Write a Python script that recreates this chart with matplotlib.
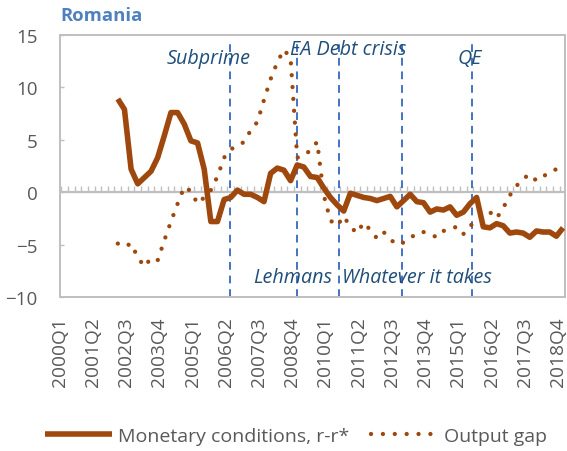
import numpy as np
import matplotlib.pyplot as plt
import matplotlib.transforms as mtransforms
from matplotlib.lines import Line2D

plt.rcParams["font.family"] = ["Open Sans", "DejaVu Sans"]

# Quarterly category axis 2000Q1 .. 2018Q4
quarters = [f"{y}Q{q}" for y in range(2000, 2019) for q in range(1, 5)]
tick_labels = ["2000Q1", "2001Q2", "2002Q3", "2003Q4", "2005Q1", "2006Q2",
               "2007Q3", "2008Q4", "2010Q1", "2011Q2", "2012Q3", "2013Q4",
               "2015Q1", "2016Q2", "2017Q3", "2018Q4"]

series_start = "2002Q1"

# Monetary conditions, r - r*
monetary = [8.9, 7.9, 2.2, 0.8, 1.4, 2.0, 3.3, 5.4, 7.6, 7.6,
            6.5, 4.9, 4.7, 2.2, -2.8, -2.8, -0.7, -0.5, 0.2, -0.2,
            -0.2, -0.5, -0.9, 1.8, 2.3, 2.1, 1.1, 2.6, 2.4, 1.5,
            1.4, 0.4, -0.5, -1.2, -1.8, -0.1, -0.3, -0.5, -0.6, -0.8,
            -0.6, -0.4, -1.4, -0.8, -0.2, -0.9, -1.0, -1.9, -1.6, -1.7,
            -1.4, -2.2, -1.9, -1.1, -0.5, -3.3, -3.4, -3.0, -3.2, -3.9,
            -3.8, -3.9, -4.3, -3.7, -3.8, -3.8, -4.2, -3.4]

# Output gap
output_gap = [-4.9, -5.2, -4.9, -6.2, -7.1, -6.3, -6.5, -4.6, -2.8, -1.1,
              0.5, 0.1, -1.1, -0.5, 0.2, 1.5, 3.3, 4.1, 4.4, 4.8,
              5.9, 6.7, 8.8, 10.8, 12.4, 13.6, 12.8, 3.3, 3.5, 4.0,
              4.8, -0.3, -2.7, -3.2, -2.3, -3.3, -3.9, -2.9, -3.6, -4.4,
              -3.8, -4.5, -5.0, -4.8, -4.4, -3.9, -3.8, -4.0, -4.3, -3.7,
              -3.5, -3.3, -4.0, -3.2, -2.8, -2.4, -1.9, -2.5, -1.5, -0.3,
              0.6, 1.3, 1.7, 1.1, 1.5, 1.9, 2.2, 2.4]

# Event markers (position on the quarter axis) and their captions
event_pos = [24.9, 34.9, 41.3, 50.7, 61.3]
event_names = ["Subprime", "Lehmans", "EA Debt crisis", "Whatever it takes", "QE"]
caption_x = [21.6, 34.3, 42.6, 53.0, 61.0]
caption_y = [12.8, -8.1, 13.7, -8.1, 12.8]

BROWN = "#9E480E"
GRID = "#BFBFBF"
TEXT = "#595959"
EVENT = "#4472C4"
CAPTION = "#1F4E79"
FS = 14

fig = plt.figure(figsize=(5.67, 4.52), dpi=100)
ax = fig.add_axes([60 / 567, 1 - 298 / 452, 505 / 567, 262 / 452])

start = quarters.index(series_start)
xs = np.arange(start, start + len(monetary))

# zero line with category tick marks
ax.axhline(0, color=GRID, lw=1.6, zorder=1)
ax.vlines(np.arange(-0.5, len(quarters)), 0, 0.6, color=GRID, lw=1.0, zorder=1)

for pos in event_pos:
    ax.axvline(pos, ymin=0, ymax=0.985, color=EVENT, lw=1.4,
               linestyle=(0, (4, 3)), zorder=2)

ax.plot(xs, output_gap, color=BROWN, lw=3.1, linestyle=(0, (0.01, 2.75)),
        dash_capstyle="round", zorder=3)
ax.plot(xs, monetary, color=BROWN, lw=4.0, solid_joinstyle="round",
        solid_capstyle="butt", zorder=4)

for name, cx, cy in zip(event_names, caption_x, caption_y):
    ax.text(cx, cy, name, color=CAPTION, fontsize=14.2, style="italic",
            ha="center", va="center", zorder=5)

ax.set_xlim(-0.7, 75.3)
ax.set_ylim(-10, 15)
ax.set_yticks(range(-10, 16, 5))
ax.set_xticks([quarters.index(t) for t in tick_labels])
ax.set_xticklabels(tick_labels, rotation=90)
ax.tick_params(axis="x", length=0, pad=14, labelsize=13.8, labelcolor=TEXT)
ax.tick_params(axis="y", direction="in", length=3, width=1, color=GRID,
               pad=16, labelsize=13.5, labelcolor=TEXT)
shift = mtransforms.ScaledTranslation(-5 / 100, 0, fig.dpi_scale_trans)
for lab in ax.get_xticklabels():
    lab.set_transform(lab.get_transform() + shift)
for sp in ax.spines.values():
    sp.set_color(GRID)
    sp.set_linewidth(1.4)

fig.text(60 / 567, 1 - 16 / 452, "Romania", color="#4F81BD", fontsize=13.3,
         fontweight="bold", ha="left", va="center")

handles = [
    Line2D([], [], color=BROWN, lw=4.0, solid_capstyle="butt"),
    Line2D([], [], color=BROWN, lw=3.1, linestyle=(0, (0.01, 2.75)),
           dash_capstyle="round"),
]
fig.legend(handles, ["Monetary conditions, r-r*", "Output gap"], ncol=2,
           loc="center", bbox_to_anchor=(296 / 567, 1 - 437 / 452),
           frameon=False, fontsize=FS, labelcolor=TEXT, handlelength=3.45,
           handletextpad=0.3, columnspacing=1.1)

fig.savefig("out.png", dpi=100)
